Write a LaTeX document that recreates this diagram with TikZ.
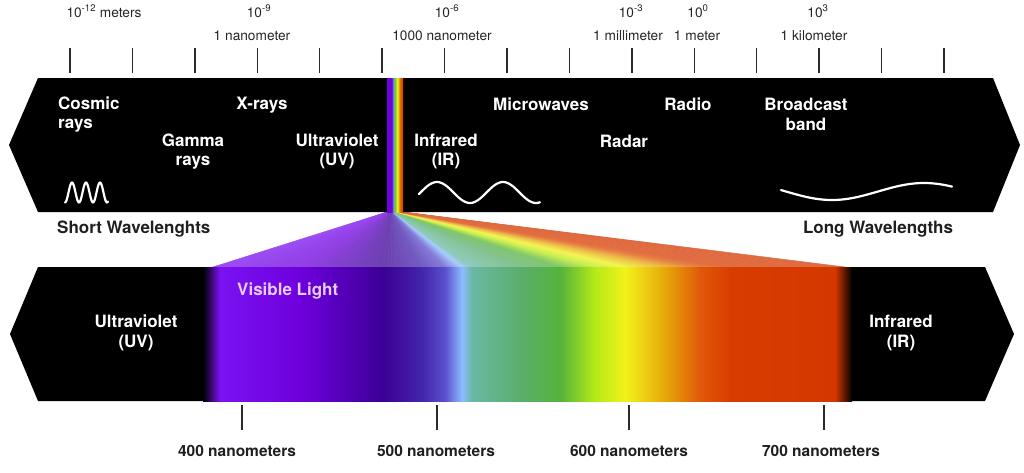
\documentclass[tikz,border=0pt]{standalone}
\usepackage{fontspec}
\setmainfont{TeX Gyre Heros}
\definecolor{s0}{HTML}{7A12F2}
\definecolor{s1}{HTML}{6E00DC}
\definecolor{s2}{HTML}{3C0096}
\definecolor{s3}{HTML}{4424AC}
\definecolor{s4}{HTML}{5A50CC}
\definecolor{s5}{HTML}{8CBCFF}
\definecolor{s6}{HTML}{6AB8A4}
\definecolor{s7}{HTML}{5AAE68}
\definecolor{s8}{HTML}{56B43A}
\definecolor{s9}{HTML}{B4EA18}
\definecolor{s10}{HTML}{F2F21C}
\definecolor{s11}{HTML}{E6A80A}
\definecolor{s12}{HTML}{E05A08}
\definecolor{s13}{HTML}{D83C00}
\definecolor{s14}{HTML}{D43800}
\definecolor{visib}{HTML}{E6CCFF}
\definecolor{tickc}{HTML}{2A2A2A}
\pgfdeclarehorizontalshading{specband}{100bp}{color(0bp)=(black); color(25bp)=(black); color(26.31bp)=(s0); color(32.49bp)=(s1); color(38.91bp)=(s2); color(41.84bp)=(s3); color(43.64bp)=(s4); color(44.95bp)=(s5); color(45.73bp)=(s6); color(49.63bp)=(s7); color(52.55bp)=(s8); color(55.18bp)=(s9); color(57.52bp)=(s10); color(60.59bp)=(s11); color(63.26bp)=(s12); color(65.69bp)=(s13); color(73.69bp)=(s14); color(75bp)=(black); color(100bp)=(black)}
\pgfdeclarehorizontalshading{strip}{100bp}{color(0bp)=(s1); color(25bp)=(s1); color(39bp)=(s1); color(43bp)=(s4); color(45bp)=(s5); color(48bp)=(s8); color(54bp)=(s9); color(57bp)=(s10); color(62bp)=(s11); color(67bp)=(s12); color(75bp)=(s13); color(100bp)=(s13)}
\begin{document}
\begin{tikzpicture}[x=1pt,y=-1pt,
  lab/.style={anchor=base, inner sep=0pt, font=\fontsize{13.7}{16}\selectfont, text=black!85},
  big/.style={anchor=base, inner sep=0pt, font=\bfseries\fontsize{17}{20}\selectfont, text=white},
  dark/.style={anchor=base, inner sep=0pt, font=\bfseries\fontsize{17}{20}\selectfont, text=black!88},
  nm/.style={anchor=base, inner sep=0pt, font=\bfseries\fontsize{15.5}{18}\selectfont, text=black!88},
  tickline/.style={draw=tickc, line width=1.4pt},
  wave/.style={draw=white, line width=2.2pt, line cap=round, line join=round},
  band/.style={fill=black}]
\useasboundingbox (0,0) rectangle (1024,472);
% fan of light from the strip to the visible band
\foreach \ta/\tb/\ca/\cb in {0/0.138/s0/s1, 0.138/0.27/s1/s2, 0.27/0.33/s2/s3, 0.33/0.367/s3/s4, 0.367/0.394/s4/s5, 0.394/0.41/s5/s6, 0.41/0.49/s6/s7, 0.49/0.55/s7/s8, 0.55/0.604/s8/s9, 0.604/0.652/s9/s10, 0.652/0.715/s10/s11, 0.715/0.77/s11/s12, 0.77/0.82/s12/s13, 0.82/1/s13/s14} {
  \foreach \i in {0,...,9} {
    \pgfmathsetmacro\u{\ta+(\tb-\ta)*\i/10}
    \pgfmathsetmacro\v{\ta+(\tb-\ta)*(\i+1)/10}
    \pgfmathtruncatemacro\p{(\i+0.5)*10}
    \filldraw[fill=\cb!\p!\ca!75!white, draw=\cb!\p!\ca!75!white, line width=0.5pt]
      ({387+16*\u},212) -- ({213+632*\u},267) -- ({213+632*\v},267) -- ({387+16*\v},212) -- cycle;
  }
}
% top band
\fill[band] (38,78) -- (993,78) -- (1020,145) -- (993,212) -- (38,212) -- (9,145) -- cycle;
\shade[shading=strip] (387,78) rectangle (403,212);
% bottom band
\fill[band] (38,267) -- (985,267) -- (1014,334) -- (985,401) -- (38,401) -- (10,334) -- cycle;
\shade[shading=specband] (203,267) rectangle (852,401);
% top ticks
\foreach \k in {0,...,14} {
  \draw[tickline] ({70+62.43*\k},48) -- ({70+62.43*\k},73);
}
% bottom ticks
\foreach \x in {242,437,629,824} {
  \draw[tickline] (\x,405) -- (\x,430);
}
% waves
\draw[wave] plot[domain=65:108, samples=90] (\x, {192.5-10*cos(25.714*(\x-72))});
\draw[wave] plot[domain=419:540, samples=90] (\x, {192.5-10.5*cos(5.4545*(\x-437))});
\draw[wave] plot[domain=781:952, samples=90] (\x, {191.5+8.5*cos(1.9565*(\x-832))});
% scale labels
\node[lab] (e12) at (104,17) {10\textsuperscript{-12} meters};
\node[lab] (e9) at (259,17) {10\textsuperscript{-9}};
\node[lab] (nm1) at (252,40) {1 nanometer};
\node[lab] (e6) at (447,17) {10\textsuperscript{-6}};
\node[lab] (nm1000) at (442,40) {1000 nanometer};
\node[lab] (e3) at (631,17) {10\textsuperscript{-3}};
\node[lab] (mm1) at (628,40) {1 millimeter};
\node[lab] (e0) at (698,17) {10\textsuperscript{0}};
\node[lab] (m1) at (697,40) {1 meter};
\node[lab] (e3b) at (818,17) {10\textsuperscript{3}};
\node[lab] (km1) at (814,40) {1 kilometer};
% top band labels
\node[big, anchor=base west] (cos1) at (58,109) {Cosmic};
\node[big, anchor=base west] (cos2) at (58,128) {rays};
\node[big] (xr) at (262,109) {X-rays};
\node[big] (gam1) at (193,146) {Gamma};
\node[big] (gam2) at (193,165) {rays};
\node[big] (uv1) at (337,146) {Ultraviolet};
\node[big] (uv2) at (337,165) {(UV)};
\node[big] (ir1) at (446,146) {Infrared};
\node[big] (ir2) at (446,165) {(IR)};
\node[big] (mw) at (541,110) {Microwaves};
\node[big] (radio) at (688,110) {Radio};
\node[big] (radar) at (624,147) {Radar};
\node[big] (bc1) at (806,110) {Broadcast};
\node[big] (bc2) at (806,130) {band};
% side labels
\node[dark, anchor=base west] (short) at (57,233) {Short Wavelenghts};
\node[dark] (long) at (878,233) {Long Wavelengths};
% bottom band labels
\node[big, text=visib, anchor=base west] (vis) at (237,295) {Visible Light};
\node[big] (buv1) at (136,327) {Ultraviolet};
\node[big] (buv2) at (136,347) {(UV)};
\node[big] (bir1) at (901,327) {Infrared};
\node[big] (bir2) at (901,347) {(IR)};
% nanometer labels
\node[nm] (n400) at (237,456) {400 nanometers};
\node[nm] (n500) at (436,456) {500 nanometers};
\node[nm] (n600) at (629,456) {600 nanometers};
\node[nm] (n700) at (821,456) {700 nanometers};
\end{tikzpicture}
\end{document}
